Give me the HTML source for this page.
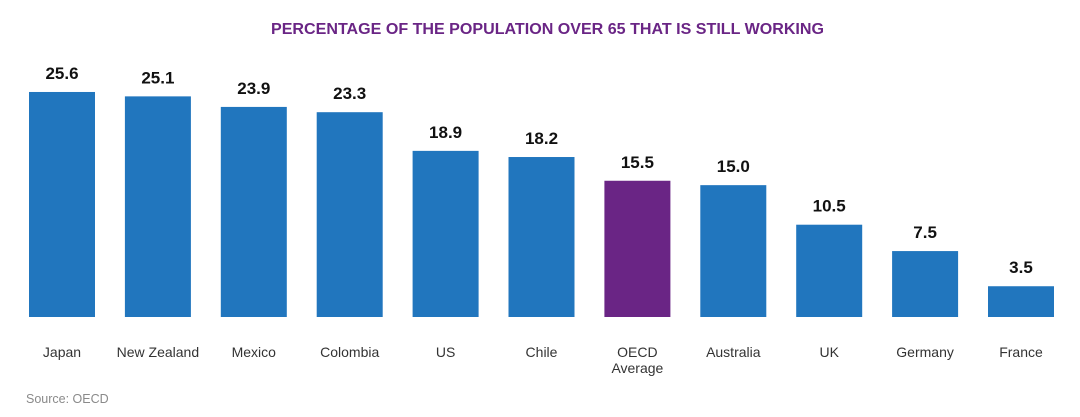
<!DOCTYPE html>
<html><head><meta charset="utf-8"><style>
body{margin:0;background:#fff;width:1080px;height:412px;overflow:hidden;font-family:"Liberation Sans",sans-serif}
</style></head><body>
<svg id="c" width="1080" height="412">
<text x="271" y="34" textLength="553" lengthAdjust="spacingAndGlyphs" font-size="15.5" font-weight="bold" fill="#6a2585">PERCENTAGE OF THE POPULATION OVER 65 THAT IS STILL WORKING</text>
<text x="26" y="403" font-size="12.5" fill="#8a8a8a">Source: OECD</text>
</svg>
<script>
const categories=["Japan","New Zealand","Mexico","Colombia","US","Chile","OECD|Average","Australia","UK","Germany","France"];
const values=[25.6,25.1,23.9,23.3,18.9,18.2,15.5,15.0,10.5,7.5,3.5];
const highlight=["OECD|Average"];
const svg=document.getElementById('c');
const NS='http://www.w3.org/2000/svg';
const base=317, scale=8.79, x0=62, step=95.9, bw=66;
const yPos=v=>base-v*scale;
const xPos=i=>x0+i*step;
categories.forEach((c,i)=>{
  const v=values[i],cx=xPos(i),y=yPos(v);
  const r=document.createElementNS(NS,'rect');
  r.setAttribute('x',cx-bw/2);r.setAttribute('y',y);r.setAttribute('width',bw);r.setAttribute('height',base-y);
  r.setAttribute('fill',highlight.includes(c)?'#6a2585':'#2176be');
  
  
  svg.appendChild(r);
  const t=document.createElementNS(NS,'text');
  t.setAttribute('x',cx);t.setAttribute('y',y-13);t.setAttribute('text-anchor','middle');
  t.setAttribute('font-size','17');t.setAttribute('font-weight','bold');t.setAttribute('fill','#111');
  t.textContent=v.toFixed(1);
  
  
  svg.appendChild(t);
  c.split('|').forEach((line,k)=>{
    const l=document.createElementNS(NS,'text');
    l.setAttribute('x',cx);l.setAttribute('y',357+k*16);l.setAttribute('text-anchor','middle');
    l.setAttribute('font-size','14');l.setAttribute('fill','#333');
    l.textContent=line;
    
    
    svg.appendChild(l);
  });
});
</script>
</body></html>
